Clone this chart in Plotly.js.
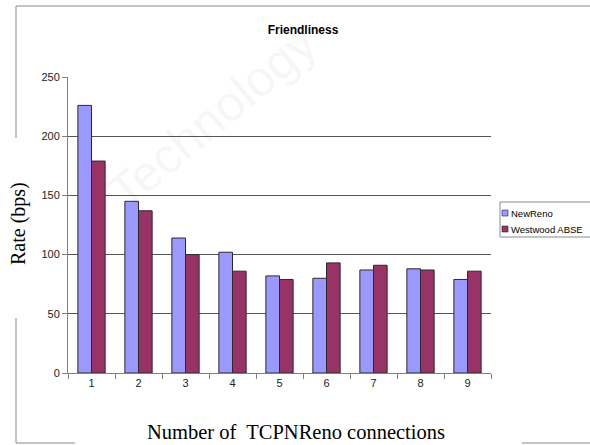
<!DOCTYPE html>
<html>
<head>
<meta charset="utf-8">
<script src="https://cdn.plot.ly/plotly-3.0.1.min.js"></script>
<style>
  html, body { margin: 0; padding: 0; background: #fff; }
  #chart { width: 590px; height: 445px; }
</style>
</head>
<body>
<div id="chart"></div>
<script>
// Average rate per flow versus number of competing TCP NewReno connections
const connections = ['1', '2', '3', '4', '5', '6', '7', '8', '9'];
const seriesNames = ['NewReno', 'Westwood ABSE'];
const newRenoRate = [226, 145, 114, 102, 82, 80, 87, 88, 79];
const westwoodRate = [179, 137, 100, 86, 79, 93, 91, 87, 86];
const seriesColors = ['#9999FF', '#993366'];
const yTicks = [0, 50, 100, 150, 200, 250];

const W = 590, H = 445;
const M = { l: 68, r: 99, t: 77, b: 72 };
const plotW = W - M.l - M.r, plotH = H - M.t - M.b;
// pixel -> paper helpers for the frame decorations
const px = x => (x - M.l) / plotW;
const py = y => (H - M.b - y) / plotH;

const narrow = '"Liberation Sans Narrow", "Arial Narrow", "Liberation Sans", Arial, sans-serif';
const serif = '"Liberation Serif", "Times New Roman", serif';

const traces = [newRenoRate, westwoodRate].map((vals, i) => ({
  type: 'bar',
  name: seriesNames[i],
  x: connections,
  y: vals,
  marker: { color: seriesColors[i], line: { color: '#2a2a2a', width: 1 } },
  showlegend: false,
  hoverinfo: 'x+y+name'
}));

const frame = { color: '#8a8a8a', width: 1 };
const seg = (x0, y0, x1, y1, line) => ({
  type: 'line', xref: 'paper', yref: 'paper',
  x0: px(x0), y0: py(y0), x1: px(x1), y1: py(y1), line: line || frame
});

const shapes = [
  seg(16, 6, 600, 6),
  seg(16, 6, 16, 138),
  seg(16, 318, 16, 443),
  seg(16, 443, 75, 443),
  seg(522, 443, 600, 443),
  // legend box
  { type: 'rect', xref: 'paper', yref: 'paper', layer: 'above',
    x0: px(500), x1: px(600), y0: py(237), y1: py(202),
    line: { color: '#8a8a8a', width: 1 }, fillcolor: '#ffffff' }
];

const legendRows = [213, 229];
const annotations = [
  // faint publisher watermark
  { text: 'Technology', xref: 'paper', yref: 'paper', x: px(212), y: py(118),
    xanchor: 'center', yanchor: 'middle',
    showarrow: false, textangle: -40,
    font: { family: 'Liberation Sans, Arial, sans-serif', size: 50, color: 'rgba(0,0,0,0.035)' } },
  { text: 'Number of  TCPNReno connections', xref: 'paper', yref: 'paper',
    x: px(296), y: py(432), xanchor: 'center', yanchor: 'middle', showarrow: false,
    font: { family: serif, size: 20.5, color: '#000' } },
  { text: 'Rate (bps)', xref: 'paper', yref: 'paper',
    x: px(18), y: py(224), xanchor: 'center', yanchor: 'middle', showarrow: false,
    textangle: -90, font: { family: serif, size: 20, color: '#000' } }
];

seriesNames.forEach((name, i) => {
  const yc = legendRows[i];
  shapes.push({ type: 'rect', xref: 'paper', yref: 'paper', layer: 'above',
    x0: px(502), x1: px(508), y0: py(yc + 3), y1: py(yc - 3),
    fillcolor: seriesColors[i], line: { color: '#2a2a2a', width: 0.6 } });
  annotations.push({ text: name, xref: 'paper', yref: 'paper',
    x: px(509), y: py(yc), xanchor: 'left', yanchor: 'middle', showarrow: false,
    font: { family: narrow, size: 9.5, color: '#000' } });
});

const layout = {
  width: W, height: H,
  margin: M,
  paper_bgcolor: '#fff', plot_bgcolor: '#fff',
  barmode: 'group', bargap: 0.42, bargroupgap: 0,
  title: { text: '<b>Friendliness</b>', x: 303 / W, xanchor: 'center',
           y: 1 - 30 / H, yanchor: 'middle',
           font: { family: narrow, size: 12, color: '#000' } },
  xaxis: {
    type: 'category', tickson: 'boundaries',
    ticks: 'outside', ticklen: 5, tickcolor: '#808080',
    showline: true, linecolor: '#808080', linewidth: 1,
    showgrid: false, zeroline: false,
    tickfont: { family: narrow, size: 11, color: '#222' }
  },
  yaxis: {
    range: [0, 250], tickvals: yTicks,
    ticks: 'outside', ticklen: 5, tickcolor: '#808080',
    showline: true, linecolor: '#808080', linewidth: 1,
    showgrid: true, gridcolor: '#555', gridwidth: 1, zeroline: false,
    tickfont: { family: narrow, size: 11, color: '#222' }
  },
  shapes: shapes,
  annotations: annotations,
  showlegend: false
};

Plotly.newPlot('chart', traces, layout, { displayModeBar: false, staticPlot: true });
</script>
</body>
</html>
